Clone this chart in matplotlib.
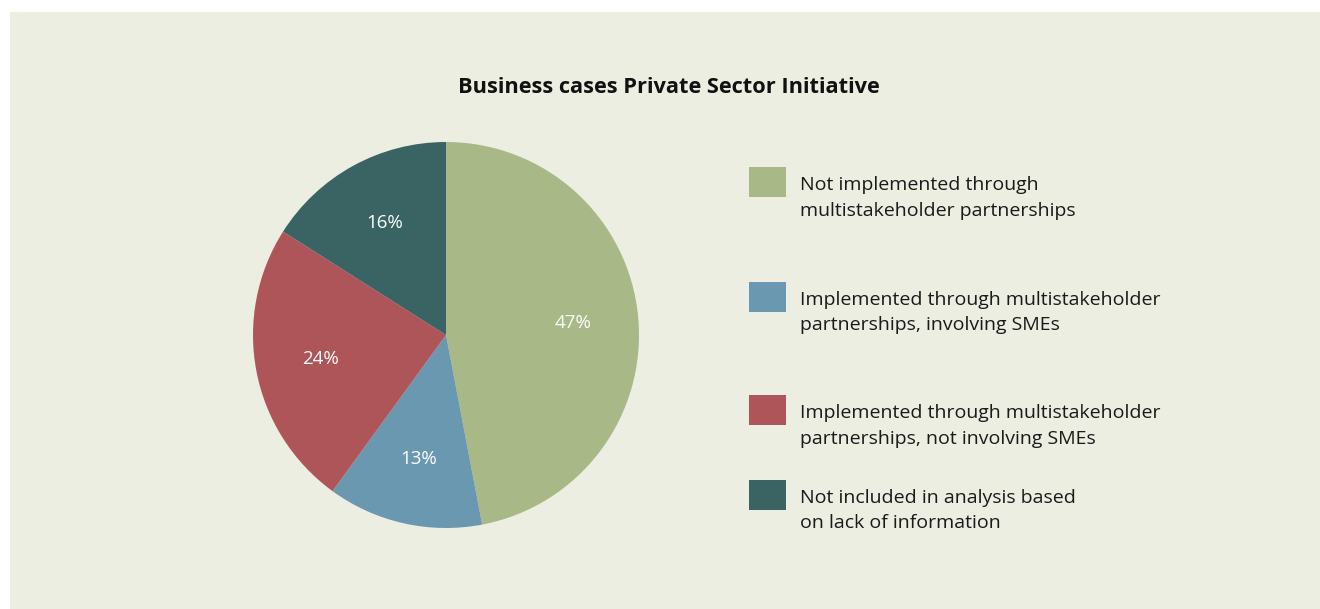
import matplotlib
matplotlib.use("Agg")
import matplotlib.pyplot as plt
from matplotlib.patches import Rectangle

W, H = 1320, 609
title = "Business cases Private Sector Initiative"
categories = [
    "Not implemented through\nmultistakeholder partnerships",
    "Implemented through multistakeholder\npartnerships, involving SMEs",
    "Implemented through multistakeholder\npartnerships, not involving SMEs",
    "Not included in analysis based\non lack of information",
]
values = [47, 13, 24, 16]
colors = ["#A8B886", "#6A98B0", "#AE555A", "#3A6363"]
bg = "#EBEEE1"

plt.rcParams['font.family'] = ['Open Sans', 'DejaVu Sans']

fig = plt.figure(figsize=(W / 100, H / 100), dpi=100)
fig.patch.set_facecolor("white")
fig.add_artist(Rectangle((10 / W, 0), 1 - 10 / W, 1 - 12 / H, transform=fig.transFigure,
                         facecolor=bg, edgecolor="none", zorder=0))

fig.text(669 / W, 1 - 87.5 / H, title, ha="center", va="center",
         fontsize=15.7, fontweight="bold", color="#111111")

cx, cy, r = 446, 335, 193
ax = fig.add_axes([(cx - r) / W, (H - cy - r) / H, 2 * r / W, 2 * r / H])
ax.set_facecolor("none")
wedges, texts = ax.pie(values, colors=colors, startangle=90, counterclock=False,
                       labels=[f"{v}%" for v in values], labeldistance=0.66,
                       textprops=dict(color="white", fontsize=13.5, ha="center", va="center"),
                       wedgeprops=dict(linewidth=0))
ax.set_xlim(-1, 1)
ax.set_ylim(-1, 1)
ax.set_aspect("equal")
ax.axis("off")

sq_tops = [167, 282, 395, 480]
for lab, col, top in zip(categories, colors, sq_tops):
    fig.add_artist(Rectangle((749 / W, 1 - (top + 30) / H), 37 / W, 30 / H,
                             transform=fig.transFigure, facecolor=col, edgecolor="none"))
    for i, line in enumerate(lab.split("\n")):
        fig.text(800 / W, 1 - (top + 23 + 25.5 * i) / H, line, ha="left", va="baseline",
                 fontsize=14.0, color="#1a1a1a")

fig.savefig("out.png", dpi=100, facecolor=fig.get_facecolor())
